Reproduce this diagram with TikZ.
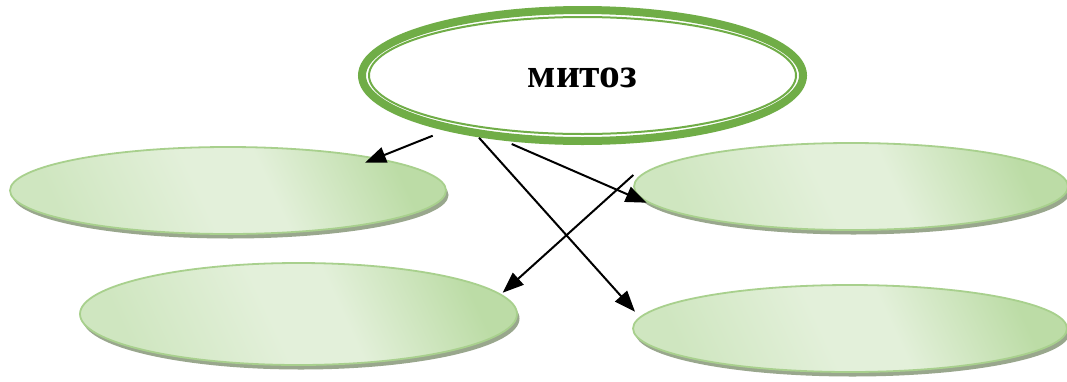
\documentclass[tikz,border=0pt]{standalone}
\usepackage{fontspec}
\newfontfamily\headfont{Liberation Serif}
\usetikzlibrary{shapes.geometric,shadows,arrows.meta}

\definecolor{ringgreen}{HTML}{70AD47}
\definecolor{pale}{HTML}{E3F0DA}
\definecolor{midgreen}{HTML}{CFE6C0}
\definecolor{deepgreen}{HTML}{BCDCA6}
\definecolor{rimgreen}{HTML}{A8D08D}
\definecolor{shadowgreen}{HTML}{99A78D}

% light band across the middle, darker towards the ends
\pgfdeclarehorizontalshading{bubbleshade}{100bp}{%
  color(0bp)=(midgreen); color(25bp)=(midgreen); color(46bp)=(pale);
  color(56bp)=(pale); color(75bp)=(deepgreen); color(100bp)=(deepgreen)}

\tikzset{
  bubble/.style={
    ellipse, inner sep=0pt, draw=rimgreen, line width=1.8pt,
    shading=bubbleshade, shading angle=25,
    general shadow={shadow xshift=2.5pt, shadow yshift=-4.5pt, fill=shadowgreen}
  },
  pointer/.style={line width=2pt, -{Triangle[length=21pt,width=16pt]}}
}

\begin{document}
\begin{tikzpicture}[x=1pt,y=-1pt]
  \useasboundingbox (0,0) rectangle (1067,381);
  \fill[white] (0,0) rectangle (1067,381);

  % central double-ringed ellipse
  \node[ellipse, inner sep=0pt, minimum width=441pt, minimum height=131pt,
        draw=ringgreen, line width=8pt] (main) at (582.5,75.5) {};
  \node[ellipse, inner sep=0pt, minimum width=427pt, minimum height=117pt,
        draw=ringgreen, line width=2pt] (inner) at (main.center) {};
  \node[anchor=base, inner sep=0pt, font=\headfont\bfseries\fontsize{41.5}{50}\selectfont]
        (title) at (582.5,87.3) {митоз};

  % four empty answer bubbles
  \node[bubble, minimum width=436pt, minimum height=87pt]  (tl) at (228,190.5) {};
  \node[bubble, minimum width=434pt, minimum height=87pt]  (tr) at (851,186.5) {};
  \node[bubble, minimum width=437pt, minimum height=102pt] (bl) at (298.5,314) {};
  \node[bubble, minimum width=434pt, minimum height=87pt]  (br) at (850,328.5) {};

  % arrow ends
  \coordinate (s1) at (432.7,135.7);  \coordinate (t1) at (365,162.7);
  \coordinate (s2) at (511.7,144);    \coordinate (t2) at (646.7,202.7);
  \coordinate (s3) at (479,137.7);    \coordinate (t3) at (635,311.7);
  \coordinate (s4) at (633.3,175);    \coordinate (t4) at (502.7,292.7);

  \draw[pointer] (s1) -- (t1);
  \draw[pointer] (s2) -- (t2);
  \draw[pointer] (s3) -- (t3);
  \draw[pointer] (s4) -- (t4);
\end{tikzpicture}
\end{document}
